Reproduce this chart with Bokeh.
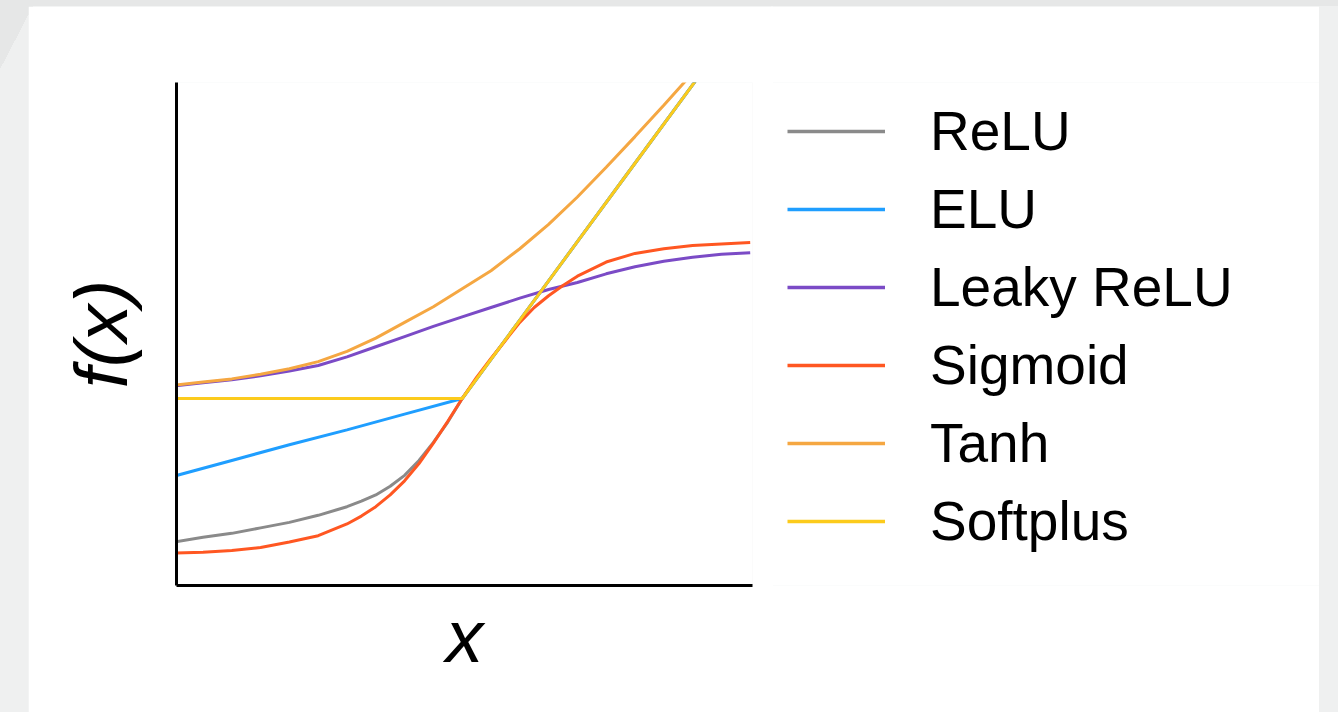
from bokeh.plotting import figure
from bokeh.models import Range1d, Legend, LegendItem, FixedTicker
from bokeh.layouts import row
from bokeh.embed import file_html
from bokeh.resources import INLINE

# ---- data ----
labels = ["ReLU", "ELU", "Leaky ReLU", "Sigmoid", "Tanh", "Softplus"]
colors = ["#8a8a8a", "#1f9eff", "#7b4bc6", "#ff5722", "#f5a742", "#fccb1c"]

x_relu = [-5, -4.5, -4, -3.5, -3, -2.5, -2, -1.75, -1.5, -1.25, -1, -0.75, -0.5, -0.25, 0, 1, 2, 3, 4, 5]
y_relu = [-1.83, -1.77, -1.72, -1.65, -1.58, -1.49, -1.38, -1.31, -1.23, -1.12, -0.98, -0.79, -0.56, -0.30, 0, 1, 2, 3, 4, 5]

x_elu = [-5, -4, -3, -2, -1, 0, 1, 2, 3, 4, 5]
y_elu = [-0.99, -0.79, -0.59, -0.40, -0.20, 0, 1, 2, 3, 4, 5]

x_leaky = [-5, -4.5, -4, -3.5, -3, -2.5, -2, -1.5, -1, -0.5, 0, 0.5, 1, 1.5, 2, 2.5, 3, 3.5, 4, 4.5, 5]
y_leaky = [0.16, 0.20, 0.24, 0.29, 0.35, 0.42, 0.53, 0.66, 0.79, 0.92, 1.04, 1.16, 1.28, 1.39, 1.48, 1.59, 1.68, 1.75, 1.80, 1.84, 1.86]

x_sig = [-5, -4.5, -4, -3.5, -3, -2.5, -2, -1.75, -1.5, -1.25, -1, -0.75, -0.5, -0.25, 0,
         0.25, 0.5, 0.75, 1, 1.25, 1.5, 1.75, 2, 2.5, 3, 3.5, 4, 4.5, 5]
y_sig = [-1.97, -1.96, -1.94, -1.90, -1.83, -1.75, -1.60, -1.50, -1.38, -1.23, -1.05, -0.83, -0.57, -0.29, 0,
         0.27, 0.51, 0.74, 0.97, 1.16, 1.31, 1.44, 1.56, 1.74, 1.85, 1.91, 1.95, 1.97, 1.99]

x_tanh = [-5, -4.5, -4, -3.5, -3, -2.5, -2, -1.5, -1, -0.5, 0, 0.5, 1, 1.5, 2, 2.5, 3, 3.5, 4]
y_tanh = [0.17, 0.21, 0.25, 0.31, 0.38, 0.47, 0.60, 0.77, 0.97, 1.17, 1.40, 1.63, 1.91, 2.22, 2.57, 2.95, 3.34, 3.74, 4.15]

x_soft = [-5, -4, -3, -2, -1, 0, 1, 2, 3, 4, 5]
y_soft = [0, 0, 0, 0, 0, 0, 1, 2, 3, 4, 5]

series = [(x_relu, y_relu), (x_elu, y_elu), (x_leaky, y_leaky),
          (x_sig, y_sig), (x_tanh, y_tanh), (x_soft, y_soft)]

FONT = "Liberation Sans"

# ---- main chart ----
p = figure(width=745, height=706, output_backend="svg", toolbar_location=None,
           x_range=Range1d(-4.96, 5.04), y_range=Range1d(-2.385, 4.03),
           min_border_left=148, min_border_top=76, min_border_bottom=127,
           min_border_right=21)
p.margin = (6, 0, 0, 28)
p.background_fill_color = "white"
p.border_fill_color = "white"
p.outline_line_color = None
p.grid.visible = False

for ax in (p.xaxis[0], p.yaxis[0]):
    ax.ticker = FixedTicker(ticks=[])
    ax.major_tick_line_color = None
    ax.minor_tick_line_color = None
    ax.major_label_text_color = None
    ax.axis_line_color = "black"
    ax.axis_line_width = 3
    ax.axis_label_text_font = FONT
    ax.axis_label_text_font_style = "italic"
    ax.axis_label_text_font_size = "75px"
    ax.axis_label_text_color = "black"

p.xaxis.axis_label = "x"
p.yaxis.axis_label = "f(x)"
p.xaxis.axis_label_standoff = 8
p.yaxis.axis_label_standoff = 34

for col, (xs, ys) in zip(colors, series):
    p.line(xs, ys, line_color=col, line_width=3)

# ---- legend panel (same series drawn outside its visible range, legend only) ----
q = figure(width=549, height=706, output_backend="svg", toolbar_location=None,
           x_range=Range1d(100, 101), y_range=Range1d(100, 101),
           x_axis_type=None, y_axis_type=None,
           min_border_left=0, min_border_right=0, min_border_top=76, min_border_bottom=0)
q.margin = (6, 0, 0, -3)
q.background_fill_color = "white"
q.border_fill_color = "white"
q.outline_line_color = None
q.grid.visible = False

items = []
for lab, col, (xs, ys) in zip(labels, colors, series):
    r = q.line(xs, ys, line_color=col, line_width=3.5)
    items.append(LegendItem(label=lab, renderers=[r]))

legend = Legend(items=items, location="top_left")
legend.label_text_font = FONT
legend.label_text_font_size = "55px"
legend.label_text_color = "black"
legend.glyph_width = 98
legend.glyph_height = 62
legend.label_height = 62
legend.label_standoff = 45
legend.spacing = 14
legend.padding = 10
legend.margin = 17
legend.border_line_color = None
legend.background_fill_alpha = 0
q.add_layout(legend, "center")

layout = row(p, q)

html = file_html(layout, INLINE)
css = ("<style>html,body{background:"
       "linear-gradient(#e6e7e7,#e6e7e7) top left/100% 6px no-repeat,"
       "linear-gradient(117.5deg,#e6e7e7 32px,#eff0f0 32px) !important;}</style>")
html = html.replace("</head>", css + "</head>", 1)
open("out.html", "w").write(html)
